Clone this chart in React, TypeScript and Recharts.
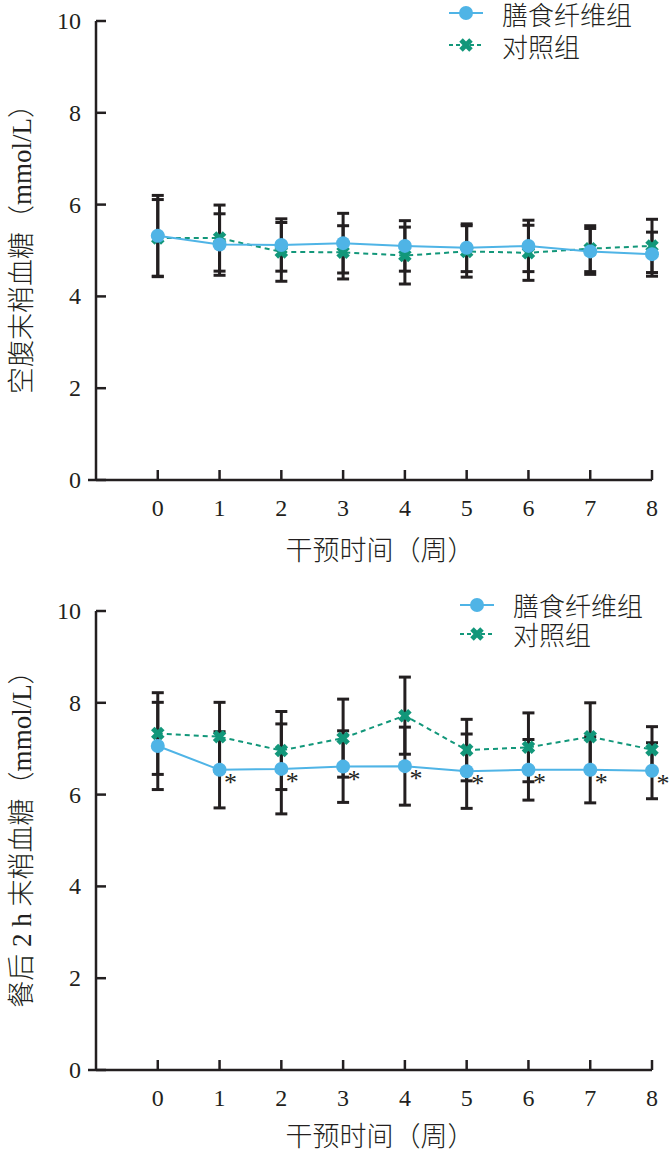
import React from "react";
import { LineChart, Line, XAxis, YAxis, ErrorBar, Legend, LabelList, Label } from "recharts";

const weeks = [0, 1, 2, 3, 4, 5, 6, 7, 8];
const yTicks = [0, 2, 4, 6, 8, 10];
const fiberName = "膳食纤维组";
const controlName = "对照组";
const xTitle = "干预时间（周）";

// 空腹末梢血糖
const fastingFiber = [5.32, 5.13, 5.12, 5.16, 5.1, 5.06, 5.1, 4.98, 4.92];
const fastingFiberSd = [0.88, 0.67, 0.57, 0.65, 0.55, 0.52, 0.56, 0.5, 0.48];
const fastingControl = [5.27, 5.27, 4.97, 4.96, 4.89, 4.98, 4.95, 5.04, 5.1];
const fastingControlSd = [0.84, 0.72, 0.64, 0.58, 0.62, 0.56, 0.6, 0.5, 0.58];

// 餐后 2 h 末梢血糖
const postFiber = [7.06, 6.54, 6.56, 6.61, 6.62, 6.51, 6.54, 6.54, 6.52];
const postFiberSd = [0.95, 0.83, 0.98, 0.78, 0.85, 0.81, 0.66, 0.72, 0.61];
const postControl = [7.33, 7.26, 6.96, 7.23, 7.72, 6.97, 7.03, 7.26, 6.98];
const postControlSd = [0.89, 0.75, 0.85, 0.85, 0.84, 0.67, 0.75, 0.74, 0.5];
const postMarks = ["", "*", "*", "*", "*", "*", "*", "*", "*"];

const INK = "#231f20";
const BLUE = "#4fb4e6";
const GREEN = "#12977a";
const SERIF = '"Liberation Serif", "Times New Roman", serif';
const MIXED = '"Liberation Serif", "Noto Sans CJK SC", serif';

function rows(fiber: number[], fiberSd: number[], control: number[], controlSd: number[], marks?: string[]) {
  return weeks.map((w, i) => ({
    week: w,
    fiber: fiber[i],
    fiberSd: fiberSd[i],
    control: control[i],
    controlSd: controlSd[i],
    mark: marks ? marks[i] : "",
  }));
}

const YTick = (props: any) => {
  const { x, y, payload } = props;
  return (
    <g>
      <line x1={x} y1={y} x2={x + 10} y2={y} stroke={INK} strokeWidth={2.5} />
      {payload.value === 0 && <line x1={x - 8} y1={y} x2={x} y2={y} stroke={INK} strokeWidth={2.5} />}
      <text x={x - 15} y={y} textAnchor="end" dominantBaseline="central" fontFamily={SERIF} fontSize={24} fill={INK}>
        {payload.value}
      </text>
    </g>
  );
};

const XTick = (props: any) => {
  const { x, y, payload } = props;
  return (
    <g>
      <line x1={x} y1={y} x2={x} y2={y - 10} stroke={INK} strokeWidth={2.5} />
      <text x={x} y={y + 28} textAnchor="middle" dominantBaseline="central" fontFamily={SERIF} fontSize={24} fill={INK}>
        {payload.value}
      </text>
    </g>
  );
};

const Cross = (props: any) => {
  const { cx, cy } = props;
  if (cx == null || cy == null) return null;
  return (
    <g stroke={GREEN} strokeWidth={5}>
      <line x1={cx - 5} y1={cy - 5} x2={cx + 5} y2={cy + 5} />
      <line x1={cx - 5} y1={cy + 5} x2={cx + 5} y2={cy - 5} />
    </g>
  );
};

const Star = (props: any) => {
  const { x, y, value } = props;
  if (!value) return null;
  return (
    <text x={x + 11} y={y + 21} textAnchor="middle" fontFamily={SERIF} fontSize={26} fill={INK}>
      {value}
    </text>
  );
};

const LegendBox = ({ gap }: { gap: number }) => (
  <div style={{ fontFamily: MIXED, fontSize: 26, fontWeight: 300, color: INK }}>
    <div style={{ display: "flex", alignItems: "center", height: gap }}>
      <svg width={34} height={20}>
        <line x1={0} y1={10} x2={34} y2={10} stroke={BLUE} strokeWidth={2} />
        <circle cx={17} cy={10} r={7} fill={BLUE} />
      </svg>
      <span style={{ marginLeft: 19 }}>{fiberName}</span>
    </div>
    <div style={{ display: "flex", alignItems: "center", height: gap }}>
      <svg width={34} height={20}>
        <line x1={0} y1={10} x2={34} y2={10} stroke={GREEN} strokeWidth={2} strokeDasharray="4 3" />
        <Cross cx={17} cy={10} />
      </svg>
      <span style={{ marginLeft: 19 }}>{controlName}</span>
    </div>
  </div>
);

function Panel({ data, yTitle, height, bottom, legendTop, legendLeft, gap, titleOffset }: any) {
  return (
    <LineChart width={669} height={height} data={data} margin={{ top: 21, right: 17, bottom, left: 0 }}>
      <XAxis
        dataKey="week"
        type="number"
        domain={[-1, 8]}
        ticks={weeks}
        height={80}
        tickSize={0}
        tickMargin={0}
        tick={<XTick />}
        axisLine={{ stroke: INK, strokeWidth: 2.5 }}
        tickLine={false}
        interval={0}
      >
        <Label
          value={xTitle}
          position="insideBottom"
          offset={titleOffset}
          dx={6}
          style={{ fontFamily: MIXED, fontSize: 27, fontWeight: 300, fill: INK }}
        />
      </XAxis>
      <YAxis
        type="number"
        domain={[0, 10]}
        ticks={yTicks}
        width={96}
        tickSize={0}
        tickMargin={0}
        tick={<YTick />}
        axisLine={{ stroke: INK, strokeWidth: 2.5 }}
        tickLine={false}
        interval={0}
      >
        <Label
          content={(p: any) => {
            const vb = p.viewBox;
            return (
              <text
                transform={`translate(${vb.x + 22},${vb.y + vb.height / 2 - 8}) rotate(-90)`}
                textAnchor="middle"
                dominantBaseline="central"
                fontFamily={MIXED}
                fontSize={27}
                fontWeight={300}
                fill={INK}
              >
                {yTitle}
              </text>
            );
          }}
        />
      </YAxis>
      <Legend
        verticalAlign="middle"
        align="center"
        layout="horizontal"
        content={() => <LegendBox gap={gap} />}
        wrapperStyle={{ top: legendTop, left: legendLeft, width: 669 - legendLeft }}
      />
      <Line
        dataKey="control"
        name={controlName}
        stroke={GREEN}
        strokeWidth={2}
        strokeDasharray="5 4"
        dot={<Cross />}
        activeDot={false}
        isAnimationActive={false}
      >
        <ErrorBar dataKey="controlSd" direction="y" width={6} stroke={INK} strokeWidth={3} />
      </Line>
      <Line
        dataKey="fiber"
        name={fiberName}
        stroke={BLUE}
        strokeWidth={2}
        dot={{ r: 7, fill: BLUE, stroke: "none" }}
        activeDot={false}
        isAnimationActive={false}
      >
        <ErrorBar dataKey="fiberSd" direction="y" width={6} stroke={INK} strokeWidth={3} />
        <LabelList dataKey="mark" content={<Star />} />
      </Line>
    </LineChart>
  );
}

export default function App() {
  return (
    <div style={{ position: "absolute", left: 0, top: 0, width: 669, height: 1153, background: "#fff" }}>
      <Panel
        data={rows(fastingFiber, fastingFiberSd, fastingControl, fastingControlSd)}
        yTitle="空腹末梢血糖（mmol/L）"
        height={590}
        bottom={30}
        legendTop={-3}
        legendLeft={449}
        gap={32}
        titleOffset={0}
      />
      <Panel
        data={rows(postFiber, postFiberSd, postControl, postControlSd, postMarks)}
        yTitle="餐后 2 h 末梢血糖（mmol/L）"
        height={563}
        bottom={3}
        legendTop={0}
        legendLeft={460}
        gap={29}
        titleOffset={4}
      />
    </div>
  );
}
